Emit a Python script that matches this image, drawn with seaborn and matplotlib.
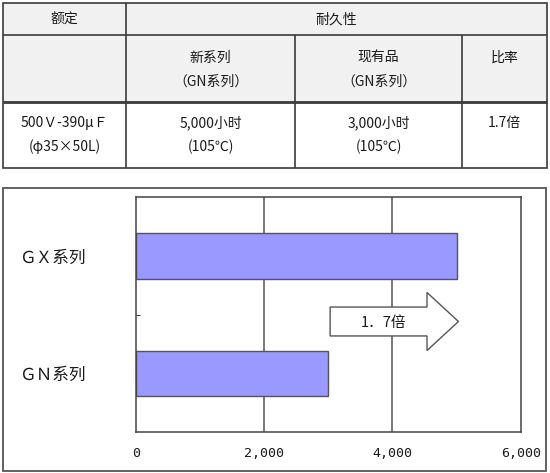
import matplotlib
matplotlib.use("Agg")
import matplotlib.pyplot as plt
import seaborn as sns
import pandas as pd
from matplotlib.patches import Rectangle, FancyArrow

# ---------------- data ----------------
categories = ["ＧＸ系列", "ＧＮ系列"]
hours = [5000, 3000]
x_ticks = [0, 2000, 4000, 6000]
x_tick_labels = ["0", "2,000", "4,000", "6,000"]
ratio_label = "1．7倍"

header_row1 = ["额定", "耐久性"]
header_row2 = [[], ["新系列", "（GN系列）"], ["现有品", "（GN系列）"], ["比率"]]
body_row = [["500Ｖ-390μＦ", "(φ35×50L)"], ["5,000小时", "(105℃)"],
            ["3,000小时", "(105℃)"], ["1.7倍"]]

# ---------------- style ----------------
sns.set_theme(style="white")
plt.rcParams["font.family"] = ["Noto Sans CJK SC", "DejaVu Sans"]

W, H = 550, 473
fig = plt.figure(figsize=(W / 100, H / 100), dpi=100)
fig.patch.set_facecolor("white")

# background axes in pixel coordinates (table + chart frame)
bg = fig.add_axes([0, 0, 1, 1])
bg.set_xlim(0, W)
bg.set_ylim(H, 0)
bg.axis("off")

line_c = "#3a3a3a"
text_c = "#1a1a1a"
# table geometry
tl, tr = 3, 547
ty0, ty1, ty2, ty3 = 3, 35.5, 102, 168
cols = [tl, 126, 295, 462, tr]

bg.add_patch(Rectangle((tl, ty0), tr - tl, ty2 - ty0, facecolor="#F1F1F1",
                       edgecolor="none", zorder=0))
bg.add_patch(Rectangle((tl, ty0), tr - tl, ty3 - ty0, facecolor="none",
                       edgecolor=line_c, lw=1.2, zorder=2))
kw = dict(color=line_c, solid_capstyle="butt")
bg.plot([tl, tr], [ty1, ty1], lw=1.2, **kw)
bg.plot([tl, tr], [ty2, ty2], lw=2.0, **kw)
bg.plot([cols[1], cols[1]], [ty0, ty3], lw=1.2, **kw)
bg.plot([cols[2], cols[2]], [ty1, ty3], lw=1.2, **kw)
bg.plot([cols[3], cols[3]], [ty1, ty3], lw=1.2, **kw)

fs_t = 10
tw = "medium"
bg.text((cols[0] + cols[1]) / 2, 19.5, header_row1[0], ha="center", va="center",
        fontsize=fs_t, color=text_c, fontweight=tw)
bg.text((cols[1] + cols[4]) / 2, 19.5, header_row1[1], ha="center", va="center",
        fontsize=fs_t, color=text_c, fontweight=tw)
line_ys_h2 = [57.7, 81.7]
line_ys_b = [123.3, 146.7]
for i in range(4):
    cx = (cols[i] + cols[i + 1]) / 2
    for j, t in enumerate(header_row2[i]):
        bg.text(cx, line_ys_h2[j], t, ha="center", va="center", fontsize=fs_t,
                color=text_c, fontweight=tw)
    for j, t in enumerate(body_row[i]):
        bg.text(cx, line_ys_b[j], t, ha="center", va="center", fontsize=fs_t,
                color=text_c, fontweight=tw)

# chart frame
bg.add_patch(Rectangle((3, 188), 543, 282.7, facecolor="white",
                       edgecolor="#555555", lw=1.3, zorder=1))

# ---------------- chart ----------------
ax_l, ax_r, ax_t, ax_b = 135.7, 520.7, 197.3, 432.3
ax = fig.add_axes([ax_l / W, (H - ax_b) / H, (ax_r - ax_l) / W, (ax_b - ax_t) / H])
ax.set_facecolor("white")

df = pd.DataFrame({"series": categories, "hours": hours})
sns.barplot(data=df, x="hours", y="series", color="#9999FF", saturation=1,
            width=0.39, edgecolor="#555555", linewidth=1.0, ax=ax)

ax.set_xlim(0, 6000)
ax.set_ylim(1.5, -0.5)
ax.set_xticks(x_ticks)
ax.set_xticklabels(x_tick_labels, family="DejaVu Sans Mono", fontsize=9.5,
                   color=text_c)
ax.set_xlabel("")
ax.set_ylabel("")
ax.tick_params(axis="x", length=0, pad=10.5)
ax.tick_params(axis="y", which="major", length=0, pad=36)
ax.set_yticks([0, 1])
ax.set_yticklabels(categories, fontsize=12, color=text_c, fontweight=tw)
ax.set_yticks([0.5], minor=True)
ax.tick_params(axis="y", which="minor", length=3, direction="in", width=0.8,
               color="#444444", left=True)

ax.grid(False)
ax.set_axisbelow(True)
for v in x_ticks[1:-1]:
    ax.axvline(v, color="#555555", lw=1.1, zorder=0.5)
for s in ax.spines.values():
    s.set_color("#444444")
    s.set_linewidth(1.1)
    s.set_visible(True)

# ratio arrow from GN value to GX value
y_mid = 0.557
arrow = FancyArrow(hours[1] + 30, y_mid, hours[0] - hours[1], 0,
                   width=0.246, head_width=0.494, head_length=490,
                   length_includes_head=True, facecolor="white",
                   edgecolor="#555555", lw=1.0, zorder=4)
ax.add_patch(arrow)
ax.text(3860, y_mid + 0.01, ratio_label, ha="center", va="center", fontsize=10.5,
        color=text_c, fontweight=tw, zorder=5)

fig.savefig("out.png", dpi=100, facecolor="white")
